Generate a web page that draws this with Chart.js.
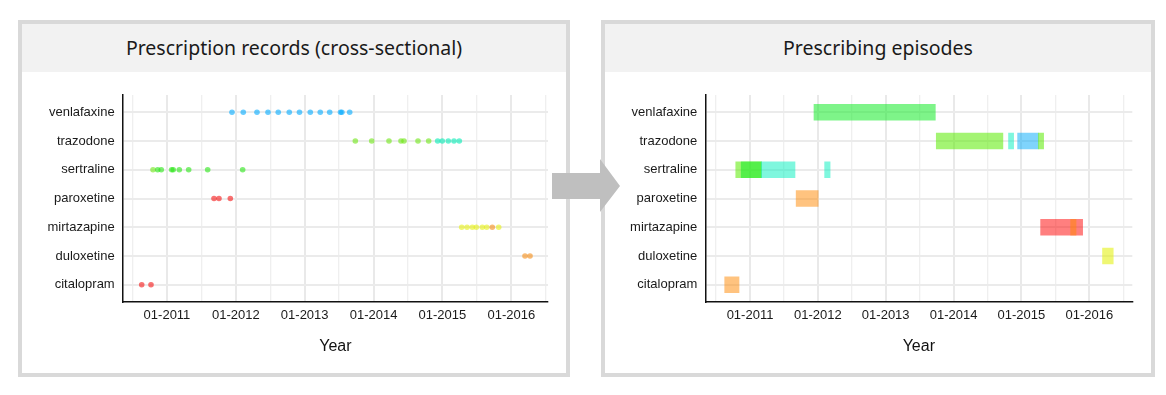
<!DOCTYPE html>
<html>
<head>
<meta charset="utf-8">
<script src="https://cdn.jsdelivr.net/npm/chart.js@4.4.1/dist/chart.umd.min.js"></script>
<style>
  html, body { margin: 0; padding: 0; background: #fff; width: 1166px; height: 395px; overflow: hidden; }
  .panel { position: absolute; top: 20px; height: 357px; border: 4px solid #d9d9d9; box-sizing: border-box; background: #fff; }
  .head { position: absolute; left: 0; right: 0; top: 0; height: 48px; background: #f2f2f2; text-align: center;
          font-family: "Noto Sans", sans-serif; font-size: 19.5px; line-height: 48px; color: #1a1a1a; }
  canvas { position: absolute; }
  #arrow { position: absolute; left: 0; top: 0; z-index: 5; pointer-events: none; }
</style>
</head>
<body>
<div class="panel" style="left:18px;width:552px;"><div class="head">Prescription records (cross-sectional)</div></div>
<div class="panel" style="left:601px;width:554px;"><div class="head">Prescribing episodes</div></div>
<canvas id="left" width="544" height="298" style="left:22px;top:75px;width:544px;height:298px;"></canvas>
<canvas id="right" width="546" height="298" style="left:605px;top:75px;width:546px;height:298px;"></canvas>
<svg id="arrow" width="1166" height="395"><polygon points="552,173 600,173 600,159 620,186 600,212 600,199 552,199" fill="#bfbfbf"/></svg>
<script>
// ---- categories & ticks ----
const drugs = ['venlafaxine', 'trazodone', 'sertraline', 'paroxetine', 'mirtazapine', 'duloxetine', 'citalopram'];
const tickValues = [2010.5, 2011, 2011.5, 2012, 2012.5, 2013, 2013.5, 2014, 2014.5, 2015, 2015.5, 2016, 2016.5];
const tickLabels = ['', '01-2011', '', '01-2012', '', '01-2013', '', '01-2014', '', '01-2015', '', '01-2016', ''];

// ---- prescription records (decimal year) ----
const venlafaxineRec = [2011.944, 2012.108, 2012.307, 2012.467, 2012.616, 2012.776, 2012.924, 2013.081, 2013.226, 2013.363, 2013.52, 2013.54, 2013.653];
const venlafaxineGrp = ['blue', 'blue', 'blue', 'blue', 'blue', 'blue', 'blue', 'blue', 'blue', 'blue', 'blue', 'blue', 'blue'];
const trazodoneRec = [2013.735, 2013.973, 2014.224, 2014.398, 2014.442, 2014.645, 2014.80, 2014.931, 2014.998, 2015.085, 2015.168, 2015.245];
const trazodoneGrp = ['ygreen', 'ygreen', 'ygreen', 'ygreen', 'ygreen', 'ygreen', 'ygreen', 'cyan', 'cyan', 'cyan', 'cyan', 'cyan'];
const sertralineRec = [2010.797, 2010.865, 2010.917, 2011.068, 2011.091, 2011.179, 2011.315, 2011.591, 2012.099];
const sertralineGrp = ['ygreen', 'green', 'green', 'green', 'green', 'green', 'green', 'green', 'green'];
const paroxetineRec = [2011.683, 2011.755, 2011.92];
const paroxetineGrp = ['red', 'red', 'red'];
const mirtazapineRec = [2015.280, 2015.357, 2015.434, 2015.492, 2015.579, 2015.643, 2015.724, 2015.817];
const mirtazapineGrp = ['yellow', 'yellow', 'yellow', 'yellow', 'yellow', 'yellow', 'orange', 'yellow'];
const duloxetineRec = [2016.199, 2016.272];
const duloxetineGrp = ['orange', 'orange'];
const citalopramRec = [2010.633, 2010.768];
const citalopramGrp = ['red', 'red'];

// ---- prescribing episodes ----
const episodeDrug  = ['venlafaxine', 'trazodone', 'trazodone', 'trazodone', 'trazodone', 'sertraline', 'sertraline', 'sertraline', 'sertraline', 'paroxetine', 'mirtazapine', 'mirtazapine', 'duloxetine', 'citalopram'];
const episodeStart = [2011.943, 2013.745, 2014.81, 2014.944, 2015.249, 2010.79, 2010.87, 2011.167, 2012.10, 2011.68, 2015.283, 2015.725, 2016.195, 2010.627];
const episodeEnd   = [2013.731, 2014.727, 2014.885, 2015.249, 2015.327, 2011.167, 2011.167, 2011.663, 2012.18, 2012.005, 2015.902, 2015.805, 2016.353, 2010.838];
const episodeGroup = ['green', 'ygreen', 'cyan', 'blue', 'ygreen', 'ygreen', 'green', 'cyan', 'cyan', 'orange', 'red', 'orange', 'yellow', 'orange'];

// ---- styles ----
const dotColours = {
  blue: 'rgba(0,170,255,0.6)', green: 'rgba(40,230,20,0.6)', ygreen: 'rgba(110,230,20,0.6)',
  cyan: 'rgba(0,235,180,0.6)', red: 'rgba(245,20,20,0.6)', orange: 'rgba(245,140,20,0.6)', yellow: 'rgba(230,240,20,0.6)'
};
const barColours = {
  blue: 'rgba(0,170,250,0.5)', green: 'rgba(20,235,40,0.55)', ygreen: 'rgba(90,235,0,0.55)',
  cyan: 'rgba(0,240,190,0.5)', red: 'rgba(255,0,0,0.5)', orange: 'rgba(255,135,0,0.5)', yellow: 'rgba(225,240,0,0.55)'
};
const FONT = 'Liberation Sans, Arial, sans-serif';
const TXT = '#1a1a1a';

function xScale(min, max) {
  return {
    type: 'linear', min: min, max: max,
    afterBuildTicks: s => { s.ticks = tickValues.map(v => ({ value: v })); },
    afterFit: s => { s.height = 71; },
    grid: {
      drawTicks: false,
      color: ctx => (tickLabels[ctx.index] ? '#e9e9e9' : '#efefef'),
      lineWidth: ctx => (tickLabels[ctx.index] ? 2 : 1.3)
    },
    border: { display: true, color: '#111', width: 1.5 },
    ticks: { autoSkip: false, maxRotation: 0, minRotation: 0, padding: 6, color: TXT,
             font: { family: FONT, size: 13 }, callback: (v, i) => tickLabels[i] },
    title: { display: true, text: 'Year', color: '#111', font: { family: FONT, size: 16 }, padding: { top: 0, bottom: 17 } }
  };
}
function yScale(width) {
  return {
    type: 'linear', reverse: true, min: -0.6, max: 6.6, offset: false,
    afterBuildTicks: s => { s.ticks = drugs.map((d, i) => ({ value: i })); },
    afterFit: s => { s.width = width; },
    grid: { drawTicks: false, offset: false, color: '#ebebeb', lineWidth: 2 },
    border: { display: true, color: '#111', width: 1.5 },
    ticks: { padding: 8, color: TXT, font: { family: FONT, size: 13 }, callback: (v, i) => drugs[i] }
  };
}
const common = {
  responsive: false, animation: false,
  plugins: { legend: { display: false }, tooltip: { enabled: false }, title: { display: false } }
};

// ---- left: scatter of records ----
const recSets = [
  [venlafaxineRec, venlafaxineGrp], [trazodoneRec, trazodoneGrp], [sertralineRec, sertralineGrp],
  [paroxetineRec, paroxetineGrp], [mirtazapineRec, mirtazapineGrp], [duloxetineRec, duloxetineGrp], [citalopramRec, citalopramGrp]
];
new Chart(document.getElementById('left'), {
  type: 'scatter',
  data: {
    datasets: recSets.map((pair, di) => ({
      label: drugs[di],
      data: pair[0].map(t => ({ x: t, y: di })),
      pointBackgroundColor: pair[1].map(g => dotColours[g]),
      pointBorderWidth: 0, pointRadius: 2.8
    }))
  },
  options: Object.assign({}, common, {
    layout: { padding: { top: 20, right: 18, left: 0, bottom: 0 } },
    scales: { x: xScale(2010.357, 2016.533), y: yScale(100.7) }
  })
});

// ---- right: floating bars of episodes ----
new Chart(document.getElementById('right'), {
  type: 'bar',
  data: {
    datasets: [{
      label: 'episodes',
      data: episodeDrug.map((d, i) => ({ y: drugs.indexOf(d), x: [episodeStart[i], episodeEnd[i]] })),
      backgroundColor: episodeGroup.map(g => barColours[g]),
      borderWidth: 0, borderSkipped: false, barThickness: 16, grouped: false
    }]
  },
  options: Object.assign({}, common, {
    indexAxis: 'y',
    layout: { padding: { top: 20, right: 18.7, left: 0, bottom: 0 } },
    scales: { x: xScale(2010.341, 2016.634), y: yScale(100.3) }
  })
});
</script>
</body>
</html>
